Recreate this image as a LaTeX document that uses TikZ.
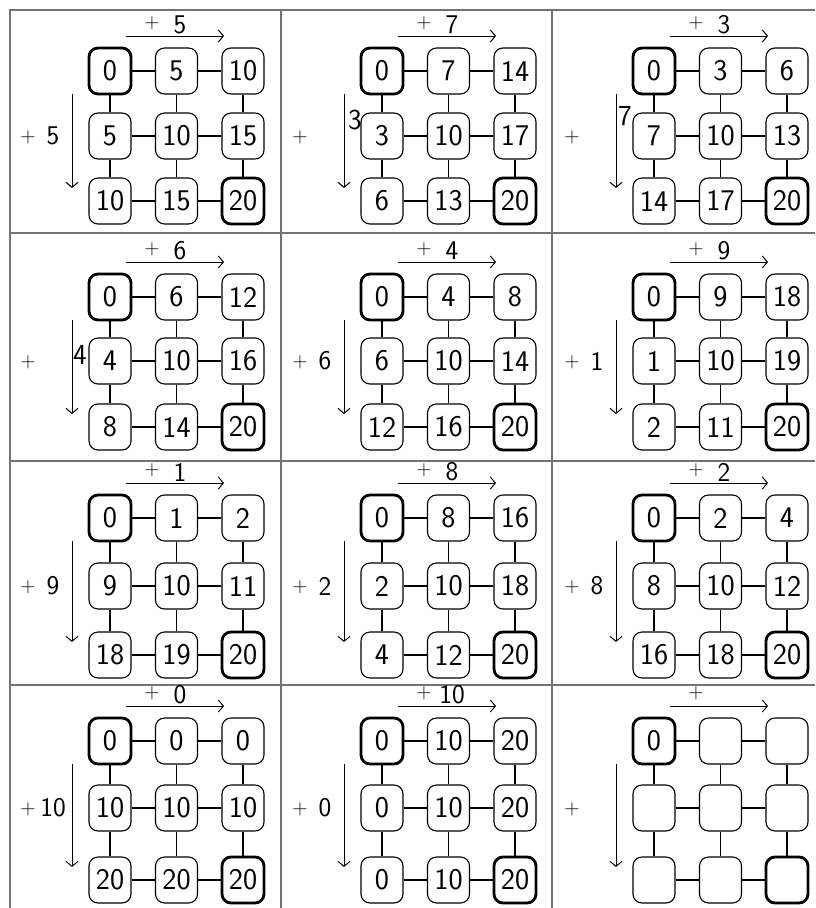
\documentclass[tikz,border=0pt]{standalone}
\usepackage{fontspec}
\usetikzlibrary{arrows.meta}
\tikzset{
  numbox/.style={draw, rounded corners=9pt, minimum width=42pt, minimum height=46pt, inner sep=0pt,
     line width=1.1pt, fill=white, font=\sffamily\fontsize{30}{30}\selectfont},
  thickbox/.style={numbox, line width=2.8pt},
  link/.style={line width=1.1pt},
  arr/.style={line width=1pt, -{Straight Barb[length=5pt,width=12pt,line width=1pt]}},
  lab/.style={inner sep=0pt, font=\sffamily\fontsize{27}{27}\selectfont},
  plus/.style={inner sep=0pt, font=\sffamily\fontsize{21}{21}\selectfont},
  divider/.style={line width=1.3pt, black!55},
  extra/.style={inner sep=0pt, font=\sffamily\fontsize{29}{29}\selectfont}
}
% #1 name, #2 x of first column, #3 #4 #5 y of the rows, #6 top number, #7 left number, #8 values
\newcommand\gridcell[8]{%
  \foreach \v [count=\k from 0] in {#8} {%
    \pgfmathtruncatemacro\rr{int(\k/3)}%
    \pgfmathtruncatemacro\cc{mod(\k,3)}%
    \pgfmathsetmacro\yy{{#3,#4,#5}[\rr]}%
    \pgfmathsetmacro\xx{#2+66.5*\cc}%
    \ifnum\k=0 \def\mybs{thickbox}\else\ifnum\k=8 \def\mybs{thickbox}\else\def\mybs{numbox}\fi\fi
    \node[\mybs] (#1-\k) at (\xx,\yy) {\v};
  }
  \foreach \a/\b in {0/1,1/2,3/4,4/5,6/7,7/8,0/3,3/6,1/4,4/7,2/5,5/8}
    \draw[link] (#1-\a) -- (#1-\b);
  \coordinate (#1-ta) at (#2+16,#3-35);
  \coordinate (#1-tb) at (#2+114,#3-35);
  \draw[arr] (#1-ta) -- (#1-tb);
  \node[plus] (#1-tp) at (#2+42,#3-48) {+};
  \if\relax\detokenize{#6}\relax\else\node[lab] (#1-tn) at (#2+70,#3-46) {#6};\fi
  \coordinate (#1-la) at (#2-38,#3+23);
  \coordinate (#1-lb) at (#2-38,#5-13);
  \draw[arr] (#1-la) -- (#1-lb);
  \node[plus] (#1-lp) at (#2-82,#4+1) {+};
  \if\relax\detokenize{#7}\relax\else\node[lab] (#1-ln) at (#2-57,#4) {#7};\fi
}
\begin{document}
\begin{tikzpicture}[x=1pt,y=-1pt]
\useasboundingbox (0,0) rectangle (815,908);
\fill[white] (0,0) rectangle (815,908);
% frame and dividers
\coordinate (tl) at (10,10);
\coordinate (tr) at (815,10);
\coordinate (bl) at (10,908);
\draw[divider] (bl) -- (tl) -- (tr);
\foreach \xd in {281,552} {
  \coordinate (v\xd a) at (\xd,10);
  \coordinate (v\xd b) at (\xd,908);
  \draw[divider] (v\xd a) -- (v\xd b);
}
\foreach \yd in {233,461,685} {
  \coordinate (h\yd a) at (10,\yd);
  \coordinate (h\yd b) at (815,\yd);
  \draw[divider] (h\yd a) -- (h\yd b);
}
% row 1
\gridcell{c1}{110}{71}{136}{201}{5}{5}{0,5,10,5,10,15,10,15,20}
\gridcell{c2}{382}{71}{136}{201}{7}{}{0,7,14,3,10,17,6,13,20}
\gridcell{c3}{654}{71}{136}{201}{3}{}{0,3,6,7,10,13,14,17,20}
% row 2
\gridcell{c4}{110}{297}{361}{427}{6}{}{0,6,12,4,10,16,8,14,20}
\gridcell{c5}{382}{297}{361}{427}{4}{6}{0,4,8,6,10,14,12,16,20}
\gridcell{c6}{654}{297}{361}{427}{9}{1}{0,9,18,1,10,19,2,11,20}
% row 3
\gridcell{c7}{110}{518}{586}{655}{1}{9}{0,1,2,9,10,11,18,19,20}
\gridcell{c8}{382}{518}{586}{655}{8}{2}{0,8,16,2,10,18,4,12,20}
\gridcell{c9}{654}{518}{586}{655}{2}{8}{0,2,4,8,10,12,16,18,20}
% row 4
\gridcell{c10}{110}{741}{808}{880}{0}{10}{0,0,0,10,10,10,20,20,20}
\gridcell{c11}{382}{741}{808}{880}{10}{0}{0,10,20,0,10,20,0,10,20}
\gridcell{c12}{654}{741}{808}{880}{}{}{0,,,,,,,,}
% extra numbers written beside the arrows
\node[extra] (x2) at (355,120) {3};
\node[extra] (x3) at (625,116) {7};
\node[extra] (x4) at (80,355) {4};
\end{tikzpicture}
\end{document}
